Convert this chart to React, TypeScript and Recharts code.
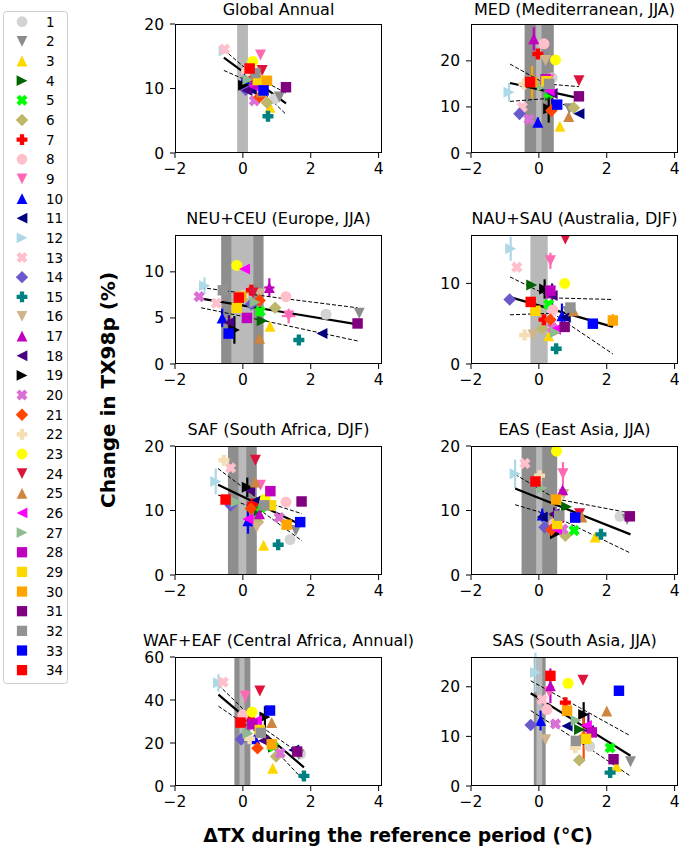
import React from 'react';
import { ScatterChart, Scatter, XAxis, YAxis, ReferenceArea, ErrorBar } from 'recharts';

const FONT = '"DejaVu Sans", sans-serif';

const MODELS = ['1','2','3','4','5','6','7','8','9','10','11','12','13','14','15','16','17','18','19','20','21','22','23','24','25','26','27','28','29','30','31','32','33','34'];
const COLORS = ['#d3d3d3','#8c8c8c','#ffd700','#006400','#00ff00','#bdb76b','#ff0000','#ffc0cb','#ff69b4','#0000ff','#000080','#add8e6','#ffc0cb','#6a5acd','#008080','#d2b48c','#bf00bf','#4b0082','#000000','#da70d6','#ff4500','#f5deb3','#ffff00','#dc143c','#cd853f','#ff00ff','#8fbc8f','#bf00bf','#ffd700','#ffa500','#800080','#929292','#0000ff','#ff0000'];
const MARKERS = ['o','v','^','>','X','D','P','o','v','^','<','>','X','D','P','v','^','<','>','X','D','P','o','v','^','<','>','s','s','s','s','s','s','s'];

const X_TICKS = [-2, 0, 2, 4];

// ---- Global Annual
const globalX = [0.93,1.08,0.80,0.22,0.29,0.71,0.25,0.10,0.52,0.05,0.25,-0.55,-0.54,0.08,0.74,0.39,0.31,0.12,0.02,0.34,0.49,0.15,0.29,0.57,0.54,0.31,0.15,0.44,0.44,0.71,1.27,0.37,0.61,0.20];
const globalY = [8.4,8.7,7.1,10.2,10.5,7.8,11.9,12.6,15.2,11.5,9.8,15.8,16.1,9.8,5.7,11.3,11.0,9.7,10.5,8.1,8.7,12.8,14.2,12.8,9.5,10.4,11.4,10.8,11.3,11.2,10.2,12.4,9.7,13.1];
const globalFit = { x: [-0.56, 0.35, 1.27], fit: [14.8, 11.27, 7.7], hi: [16.0, 11.9, 9.3], lo: [12.8, 10.7, 6.0] };
const globalBands = [{ x1: -0.17, x2: 0.15, c: '#b8b8b8' }];
const globalErr: number[][] = [];

// ---- MED
const medX = [0.39,0.90,0.62,0.35,0.30,1.03,-0.03,0.15,0.30,-0.03,1.18,-0.88,-0.49,-0.57,0.29,0.20,-0.15,0.39,0.29,-0.29,0.37,-0.44,0.49,1.18,0.88,0.30,0.10,0.20,0.22,-0.20,1.18,0.30,0.54,-0.26];
const medY = [16.3,9.6,5.8,12.5,13.0,9.8,21.5,23.7,16.0,6.7,8.5,13.2,10.0,8.5,14.2,20.1,24.8,12.9,9.6,7.3,9.2,15.0,20.2,15.7,7.9,13.5,14.5,16.0,15.6,15.4,12.3,15.0,10.5,15.4];
const medFit = { x: [-0.85, 0.2, 1.18], fit: [15.2, 13.5, 11.9], hi: [19.3, 15.0, 14.4], lo: [11.2, 11.8, 9.4] };
const medBands = [{ x1: -0.42, x2: 0.44, c: '#8e8e8e' }, { x1: -0.08, x2: 0.08, c: '#bababa' }];
const medErr = [[12, 0.08, 2.0], [17, 0, 2.5], [30, 0, 3.5], [19, 0, 3.0], [18, 0, 2.5], [10, 0, 1.0]];

// ---- NEU+CEU
const neuX = [2.45,3.43,0.80,0.57,0.51,0.95,0.25,1.27,1.35,-0.61,2.33,-1.13,-0.78,0.25,1.65,0.49,0.78,-0.41,-0.25,-1.29,0.49,0.00,-0.18,0.30,0.49,0.05,0.36,0.12,-0.18,-0.05,3.38,-0.59,-0.42,-0.12];
const neuY = [5.4,5.5,4.1,4.7,5.7,6.1,8.0,7.3,5.2,5.0,3.3,8.5,6.6,6.5,2.6,7.6,8.3,4.5,3.7,7.3,6.9,7.4,10.7,7.7,2.8,10.3,6.7,5.0,6.1,7.3,4.4,8.0,3.3,7.2];
const neuFit = { x: [-1.23, 1.0, 3.38], fit: [7.1, 5.75, 4.3], hi: [8.3, 7.2, 6.1], lo: [6.1, 4.4, 2.5] };
const neuBands = [{ x1: -0.64, x2: 0.61, c: '#8e8e8e' }, { x1: -0.34, x2: 0.31, c: '#bababa' }];
const neuErr = [[12, 0.12, 0.9], [17, 0.15, 1.0], [9, 0.2, 0.8], [10, 0, 1.0], [19, 0, 1.5], [18, 0, 0.8]];

// ---- NAU+SAU
const nauX = [0.90,0.85,0.29,-0.21,0.29,0.10,0.15,0.41,0.34,0.68,0.78,-0.83,-0.65,-0.86,0.51,-0.17,0.35,0.39,0.17,0.39,0.34,-0.42,0.76,0.78,1.02,0.49,0.49,0.34,-0.10,2.18,0.76,0.93,1.59,-0.24];
const nauY = [6.8,6.5,3.5,9.8,7.4,4.4,5.5,6.7,12.8,6.0,5.8,14.3,12.0,8.0,1.9,3.6,8.8,8.5,9.3,4.5,5.5,3.6,10.0,15.5,6.6,4.3,3.9,9.1,6.6,5.4,4.6,7.0,5.0,7.7];
const nauFit = { x: [-0.85, 0.4, 2.18], fit: [8.3, 6.77, 4.6], hi: [10.8, 8.2, 8.0], lo: [6.1, 6.3, 1.25] };
const nauBands = [{ x1: -0.25, x2: 0.26, c: '#b8b8b8' }];
const nauErr = [[12, 0.05, 1.5], [9, 0.05, 1.0], [19, 0, 1.2], [18, 0, 1.5], [10, 0, 1.5], [30, 0.08, 0.8]];

// ---- SAF
const safX = [1.39,1.56,0.61,0.49,0.54,0.44,0.29,1.27,0.52,0.15,0.42,-0.80,-0.36,-0.36,1.04,0.41,0.49,0.20,0.13,1.07,0.24,-0.56,0.66,0.37,0.37,0.15,-0.20,0.81,0.83,1.29,1.73,0.63,1.69,-0.51];
const safY = [5.5,6.9,4.6,10.0,10.5,8.2,11.0,11.3,13.9,8.4,11.6,14.5,16.6,10.8,4.7,7.4,9.5,13.1,13.6,8.9,10.3,17.8,11.8,17.8,14.4,8.7,11.3,13.0,10.8,7.8,11.4,10.8,8.2,11.7];
const safFit = { x: [-0.73, 0.5, 1.74], fit: [14.0, 10.86, 7.7], hi: [16.5, 11.6, 9.5], lo: [12.4, 10.1, 5.3] };
const safBands = [{ x1: -0.44, x2: 0.41, c: '#8e8e8e' }, { x1: -0.13, x2: 0.10, c: '#bababa' }];
const safErr = [[12, 0.1, 2.0], [19, 0, 1.5], [10, 0, 2.0]];

// ---- EAS
const easX = [2.39,2.60,1.66,0.81,1.04,0.78,0.50,0.45,0.71,0.10,0.10,-0.70,-0.41,0.17,1.83,0.73,0.70,0.45,0.49,0.71,0.37,0.02,0.52,1.20,1.27,0.52,0.10,0.59,0.54,0.51,2.68,0.60,1.07,-0.10];
const easY = [9.1,8.6,5.9,10.6,6.9,6.1,7.5,8.0,15.7,9.3,9.0,15.7,17.3,7.4,6.3,12.5,13.2,9.5,6.4,7.1,7.0,15.4,19.2,9.5,9.0,7.1,13.5,8.9,7.9,11.7,9.1,9.2,8.9,14.5];
const easFit = { x: [-0.7, 0.5, 2.7], fit: [13.4, 10.89, 6.3], hi: [15.6, 11.8, 9.6], lo: [10.9, 9.0, 3.4] };
const easBands = [{ x1: -0.51, x2: 0.54, c: '#8e8e8e' }, { x1: -0.08, x2: 0.10, c: '#bababa' }];
const easErr = [[12, 0.1, 2.2], [9, 0, 1.8], [10, 0, 1.0], [18, 0, 1.0]];

// ---- WAF+EAF
const wafX = [1.70,1.65,0.88,0.90,0.90,0.98,0.20,0.00,0.07,0.35,1.50,-0.72,-0.58,-0.05,1.80,0.40,0.30,0.60,0.65,1.10,0.43,0.20,0.27,0.50,0.85,0.40,0.15,0.28,0.50,0.85,1.60,0.53,0.80,-0.07];
const wafY = [15.0,14.5,8.3,18.0,18.4,13.7,31.0,33.0,41.8,22.0,16.8,48.0,48.3,21.7,4.7,27.0,29.0,21.0,32.1,15.3,17.6,22.0,34.4,44.2,29.5,30.5,24.4,28.8,26.0,19.4,16.0,24.7,35.1,29.5];
const wafFit = { x: [-0.72, 0.55, 1.8], fit: [42.5, 25.47, 8.7], hi: [47.0, 27.5, 13.7], lo: [37.1, 23.5, 2.5] };
const wafBands = [{ x1: -0.25, x2: 0.22, c: '#8e8e8e' }, { x1: -0.10, x2: 0.05, c: '#bababa' }];
const wafErr = [[12, 0.06, 4.0], [9, 0, 3.0], [19, 0, 5.0]];

// ---- SAS
const sasX = [1.50,2.70,2.29,1.20,2.10,1.19,0.78,0.24,0.30,0.05,0.83,-0.10,0.10,-0.24,2.10,0.20,0.34,1.46,1.32,0.49,1.32,1.07,0.86,1.30,2.00,1.40,1.10,1.56,1.39,0.83,2.20,1.09,2.36,0.34];
const sasY = [8.0,4.9,4.0,11.4,7.7,5.2,16.8,15.4,19.0,13.2,12.1,22.9,17.4,12.3,2.7,9.3,20.2,11.2,14.4,12.5,9.8,7.7,20.7,21.3,15.1,12.2,13.2,10.8,9.5,15.2,5.4,9.1,19.2,22.2];
const sasFit = { x: [-0.24, 1.2, 2.7], fit: [18.7, 12.53, 6.1], hi: [21.2, 15.8, 10.1], lo: [15.2, 8.9, 2.0] };
const sasBands = [{ x1: -0.15, x2: 0.20, c: '#8e8e8e' }, { x1: -0.07, x2: 0.10, c: '#bababa' }];
const sasErr = [[12, 0.05, 4.0], [17, 0, 3.5], [10, 0, 2.0], [19, 0, 2.5], [21, 0, 4.5], [18, 0, 3.5]];

const PANELS = [
  { title: 'Global Annual', X: globalX, Y: globalY, fit: globalFit, bands: globalBands, err: globalErr, yMax: 20, yTicks: [0, 10, 20], col: 0, row: 0 },
  { title: 'MED (Mediterranean, JJA)', X: medX, Y: medY, fit: medFit, bands: medBands, err: medErr, yMax: 28, yTicks: [0, 10, 20], col: 1, row: 0 },
  { title: 'NEU+CEU (Europe, JJA)', X: neuX, Y: neuY, fit: neuFit, bands: neuBands, err: neuErr, yMax: 14, yTicks: [0, 5, 10], col: 0, row: 1 },
  { title: 'NAU+SAU (Australia, DJF)', X: nauX, Y: nauY, fit: nauFit, bands: nauBands, err: nauErr, yMax: 16, yTicks: [0, 10], col: 1, row: 1 },
  { title: 'SAF (South Africa, DJF)', X: safX, Y: safY, fit: safFit, bands: safBands, err: safErr, yMax: 20, yTicks: [0, 10, 20], col: 0, row: 2 },
  { title: 'EAS (East Asia, JJA)', X: easX, Y: easY, fit: easFit, bands: easBands, err: easErr, yMax: 20, yTicks: [0, 10, 20], col: 1, row: 2 },
  { title: 'WAF+EAF (Central Africa, Annual)', X: wafX, Y: wafY, fit: wafFit, bands: wafBands, err: wafErr, yMax: 60, yTicks: [0, 20, 40, 60], col: 0, row: 3 },
  { title: 'SAS (South Asia, JJA)', X: sasX, Y: sasY, fit: sasFit, bands: sasBands, err: sasErr, yMax: 26, yTicks: [0, 10, 20], col: 1, row: 3 },
];

const COL_LEFT = [175, 471];
const ROW_TOP = [24, 235, 446, 657];
const TITLE_GAP = [9, 11, 11, 11.5];
const PLOT_W = 207;
const PLOT_H = 129;
const AX_W = 50;
const AX_H = 35;
const PAD_T = 10;
const PAD_R = 10;

function Marker({ kind, cx, cy, color, r = 5.5 }: any) {
  if (cx == null || cy == null) return <g />;
  switch (kind) {
    case 'o':
      return <circle cx={cx} cy={cy} r={r} fill={color} />;
    case 's': {
      const h = r * 0.95;
      return <rect x={cx - h} y={cy - h} width={2 * h} height={2 * h} fill={color} />;
    }
    case 'v':
      return <polygon points={`${cx - r},${cy - r} ${cx + r},${cy - r} ${cx},${cy + r}`} fill={color} />;
    case '^':
      return <polygon points={`${cx},${cy - r} ${cx - r},${cy + r} ${cx + r},${cy + r}`} fill={color} />;
    case '>':
      return <polygon points={`${cx + r},${cy} ${cx - r},${cy - r} ${cx - r},${cy + r}`} fill={color} />;
    case '<':
      return <polygon points={`${cx - r},${cy} ${cx + r},${cy - r} ${cx + r},${cy + r}`} fill={color} />;
    case 'D': {
      const d = r * 1.15;
      return <polygon points={`${cx},${cy - d} ${cx + d},${cy} ${cx},${cy + d} ${cx - d},${cy}`} fill={color} />;
    }
    case 'P':
    case 'X': {
      const a = r * 0.4;
      const R = kind === 'X' ? r * 1.05 : r;
      const path = `M${cx - a},${cy - R}L${cx + a},${cy - R}L${cx + a},${cy - a}L${cx + R},${cy - a}L${cx + R},${cy + a}L${cx + a},${cy + a}L${cx + a},${cy + R}L${cx - a},${cy + R}L${cx - a},${cy + a}L${cx - R},${cy + a}L${cx - R},${cy - a}L${cx - a},${cy - a}Z`;
      return <path d={path} fill={color} transform={kind === 'X' ? `rotate(45 ${cx} ${cy})` : undefined} />;
    }
    default:
      return <circle cx={cx} cy={cy} r={r} fill={color} />;
  }
}

const fmtTick = (v: number) => (v < 0 ? '\u2212' + Math.abs(v) : String(v));
const tickStyle = { fill: '#000', fontSize: 15.5, fontFamily: FONT };

function Panel({ p }: any) {
  const left = COL_LEFT[p.col];
  const top = ROW_TOP[p.row];
  const W = AX_W + PLOT_W + PAD_R;
  const H = PAD_T + PLOT_H + AX_H;
  const errMap: Record<number, number[]> = {};
  p.err.forEach((e: number[]) => { errMap[e[0] - 1] = e; });
  const mk = (arr: number[]) => p.fit.x.map((x: number, i: number) => ({ x, y: arr[i] }));
  return (
    <div style={{ position: 'absolute', left: left - AX_W, top: top - PAD_T, width: W, height: H }}>
      <ScatterChart width={W} height={H} margin={{ top: PAD_T, right: PAD_R, left: 0, bottom: 0 }}>
        <XAxis type="number" dataKey="x" domain={[-2, 4.1]} ticks={X_TICKS} allowDataOverflow axisLine={false}
          tickSize={5} tickMargin={5} tick={tickStyle} tickLine={{ stroke: '#000' }} height={AX_H} tickFormatter={fmtTick} interval={0} />
        <YAxis type="number" dataKey="y" domain={[0, p.yMax]} ticks={p.yTicks} allowDataOverflow axisLine={false}
          tickSize={5} tickMargin={6} tick={tickStyle} tickLine={{ stroke: '#000' }} width={AX_W} tickFormatter={fmtTick} interval={0} />
        {p.bands.map((b: any, i: number) => (
          <ReferenceArea key={'b' + i} x1={b.x1} x2={b.x2} fill={b.c} fillOpacity={1} stroke="none" ifOverflow="hidden" />
        ))}
        <Scatter data={mk(p.fit.hi)} line={{ stroke: '#000', strokeWidth: 1, strokeDasharray: '4 2' }} shape={() => <g />} isAnimationActive={false} legendType="none" />
        <Scatter data={mk(p.fit.lo)} line={{ stroke: '#000', strokeWidth: 1, strokeDasharray: '4 2' }} shape={() => <g />} isAnimationActive={false} legendType="none" />
        <Scatter data={mk(p.fit.fit)} line={{ stroke: '#000', strokeWidth: 2.2 }} shape={() => <g />} isAnimationActive={false} legendType="none" />
        {MODELS.map((m, i) => {
          const e = errMap[i];
          const d = [{ x: p.X[i], y: p.Y[i], ex: e ? e[1] : 0, ey: e ? e[2] : 0 }];
          return (
            <Scatter key={m} name={m} data={d} isAnimationActive={false}
              shape={(sp: any) => <Marker kind={MARKERS[i]} cx={sp.cx} cy={sp.cy} color={COLORS[i]} />}>
              {e && e[2] > 0 ? <ErrorBar dataKey="ey" direction="y" width={0} stroke={COLORS[i]} strokeWidth={2.2} /> : null}
              {e && e[1] > 0 ? <ErrorBar dataKey="ex" direction="x" width={0} stroke={COLORS[i]} strokeWidth={2.2} /> : null}
            </Scatter>
          );
        })}
      </ScatterChart>
      <div style={{ position: 'absolute', left: AX_W, top: PAD_T, width: PLOT_W, height: PLOT_H, border: '1px solid #000', boxSizing: 'border-box', pointerEvents: 'none' }} />
    </div>
  );
}

function Legend() {
  return (
    <svg width={75} height={690} style={{ position: 'absolute', left: 0, top: 0 }}>
      <rect x={3.5} y={11.5} width={64} height={672} rx={3} fill="#fff" stroke="#cccccc" strokeWidth={1} />
      {MODELS.map((m, i) => {
        const cy = 21.7 + i * 19.65;
        return (
          <g key={m}>
            <Marker kind={MARKERS[i]} cx={22} cy={cy} color={COLORS[i]} r={5.4} />
            <text x={46} y={cy + 5} fontSize={13.5} fontFamily={FONT} fill="#000">{m}</text>
          </g>
        );
      })}
    </svg>
  );
}

function Labels() {
  return (
    <svg width={685} height={852} style={{ position: 'absolute', left: 0, top: 0, pointerEvents: 'none' }}>
      {PANELS.map((p, i) => (
        <text key={i} x={COL_LEFT[p.col] + PLOT_W / 2} y={ROW_TOP[p.row] - TITLE_GAP[p.row]} textAnchor="middle" fontSize={16} fontFamily={FONT} fill="#000">{p.title}</text>
      ))}
      <text x={115} y={390} transform="rotate(-90 115 390)" textAnchor="middle" fontSize={20} fontWeight="bold" fontFamily={FONT} fill="#000">Change in TX98p (%)</text>
      <text x={398} y={842} textAnchor="middle" fontSize={18.8} fontWeight="bold" fontFamily={FONT} fill="#000">ΔTX during the reference period (°C)</text>
    </svg>
  );
}

export default function App() {
  return (
    <div style={{ position: 'absolute', left: 0, top: 0, width: 685, height: 852, background: '#fff', fontFamily: FONT, overflow: 'hidden' }}>
      <Legend />
      {PANELS.map((p, i) => <Panel key={i} p={p} />)}
      <Labels />
    </div>
  );
}
